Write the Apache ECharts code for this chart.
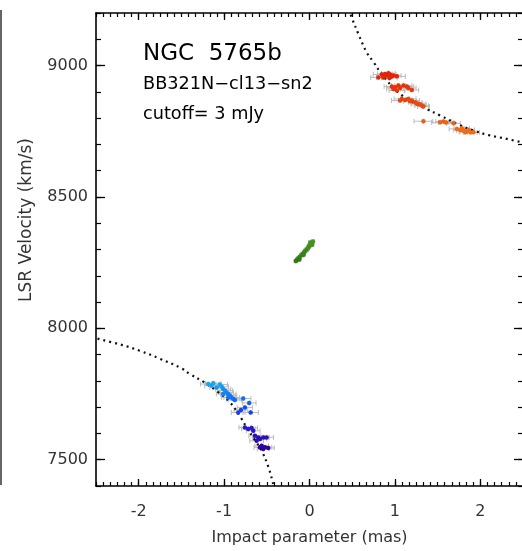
<!DOCTYPE html>
<html>
<head>
<meta charset="utf-8">
<script src="https://cdn.jsdelivr.net/npm/echarts@6/dist/echarts.min.js"></script>
<style>
  html, body { margin: 0; padding: 0; background: #fff; overflow: hidden; }
  #chart { width: 524px; height: 551px; }
</style>
</head>
<body>
<div id="chart"></div>
<script>
// Position-velocity diagram of the maser spots: [impact parameter (mas), LSR velocity (km/s), x-error (mas)]
const redshifted = [
  [0.807, 8955, 0.09], [0.846, 8966, 0.10], [0.865, 8955, 0.08], [0.885, 8968, 0.09],
  [0.905, 8962, 0.07], [0.924, 8971, 0.08], [0.936, 8953, 0.09], [0.944, 8966, 0.07],
  [0.964, 8958, 0.08], [0.982, 8962, 0.09], [1.022, 8959, 0.10],
  [0.964, 8920, 0.09], [0.982, 8911, 0.08], [1.002, 8917, 0.10], [1.022, 8905, 0.09],
  [1.041, 8924, 0.08], [1.061, 8915, 0.09], [1.100, 8924, 0.10], [1.140, 8920, 0.08],
  [1.158, 8915, 0.09], [1.198, 8907, 0.08],
  [1.061, 8867, 0.10], [1.081, 8873, 0.09], [1.120, 8869, 0.08], [1.158, 8873, 0.09],
  [1.178, 8864, 0.08], [1.198, 8867, 0.09], [1.237, 8860, 0.08], [1.257, 8856, 0.07],
  [1.276, 8854, 0.08], [1.296, 8852, 0.07], [1.315, 8848, 0.08], [1.334, 8844, 0.07],
  [1.334, 8788, 0.11], [1.530, 8784, 0.10], [1.569, 8787, 0.09], [1.600, 8783, 0.09],
  [1.686, 8780, 0.08],
  [1.726, 8759, 0.09], [1.764, 8755, 0.08], [1.784, 8761, 0.09], [1.803, 8753, 0.08],
  [1.823, 8746, 0.07], [1.843, 8750, 0.08], [1.862, 8755, 0.07], [1.882, 8746, 0.08],
  [1.920, 8746, 0.07]
];
const systemic = [
  [-0.160, 8256, 0.02], [-0.145, 8261, 0.02], [-0.130, 8266, 0.02], [-0.115, 8271, 0.02],
  [-0.095, 8278, 0.02], [-0.080, 8283, 0.02], [-0.065, 8289, 0.02], [-0.050, 8294, 0.02],
  [-0.035, 8299, 0.02], [-0.020, 8305, 0.02], [-0.010, 8310, 0.02], [0.000, 8315, 0.02],
  [0.015, 8320, 0.02], [0.028, 8325, 0.02], [0.040, 8330, 0.02], [0.010, 8327, 0.02],
  [0.030, 8318, 0.02], [-0.120, 8262, 0.02], [-0.070, 8280, 0.02]
];
const blueshifted = [
  [-1.186, 7788, 0.09], [-1.147, 7782, 0.08], [-1.128, 7791, 0.09], [-1.088, 7775, 0.08],
  [-1.049, 7786, 0.09], [-1.029, 7778, 0.08], [-1.011, 7769, 0.09], [-1.011, 7750, 0.08],
  [-0.990, 7763, 0.09], [-0.971, 7756, 0.08], [-0.952, 7750, 0.09], [-0.952, 7737, 0.08],
  [-0.932, 7744, 0.08], [-0.912, 7737, 0.09], [-0.893, 7731, 0.08], [-0.873, 7727, 0.08],
  [-0.776, 7733, 0.09], [-0.706, 7716, 0.08], [-0.756, 7699, 0.09], [-0.803, 7689, 0.08],
  [-0.689, 7680, 0.09], [-0.835, 7680, 0.08],
  [-0.756, 7623, 0.07], [-0.717, 7617, 0.08], [-0.678, 7621, 0.07], [-0.659, 7610, 0.08],
  [-0.639, 7591, 0.07], [-0.619, 7572, 0.08], [-0.600, 7585, 0.07], [-0.580, 7579, 0.08],
  [-0.542, 7585, 0.07], [-0.502, 7585, 0.08], [-0.580, 7547, 0.07], [-0.560, 7553, 0.08],
  [-0.542, 7541, 0.07], [-0.522, 7547, 0.08], [-0.483, 7545, 0.07]
];
// Rotation curves traced along the high-velocity features
const curveRed = [
  [0.46, 9215], [0.50, 9178], [0.57, 9122], [0.67, 9050], [0.75, 9013], [0.85, 8965],
  [1.04, 8898], [1.20, 8862], [1.37, 8835], [1.53, 8810], [1.75, 8775], [1.92, 8753],
  [2.10, 8735], [2.31, 8721], [2.55, 8703]
];
const curveBlue = [
  [-2.55, 7966], [-2.20, 7937], [-1.99, 7915], [-1.75, 7884], [-1.50, 7848], [-1.40, 7826],
  [-1.23, 7794], [-1.08, 7760], [-0.93, 7718], [-0.80, 7658], [-0.74, 7625], [-0.65, 7580],
  [-0.56, 7534], [-0.48, 7471], [-0.42, 7400], [-0.40, 7370]
];
const xMajorTicks = [-2, -1, 0, 1, 2];
const yMajorTicks = [7500, 8000, 8500, 9000];
const xRange = [-2.5, 2.5];
const yRange = [7400, 9200];

const FONT = 'DejaVu Sans';

// velocity -> colour ramp
const colourStops = [
  [7540, [48, 0, 160]], [7620, [40, 24, 208]], [7700, [20, 80, 240]], [7790, [20, 170, 240]],
  [8250, [40, 120, 16]], [8330, [70, 150, 30]], [8750, [240, 110, 24]], [8960, [228, 36, 8]]
];
function velColour(v) {
  if (v <= colourStops[0][0]) return 'rgb(' + colourStops[0][1].join(',') + ')';
  for (let i = 1; i < colourStops.length; i++) {
    const a = colourStops[i - 1], b = colourStops[i];
    if (v <= b[0]) {
      const t = (v - a[0]) / (b[0] - a[0]);
      const c = a[1].map((x, k) => Math.round(x + (b[1][k] - x) * t));
      return 'rgb(' + c.join(',') + ')';
    }
  }
  return 'rgb(' + colourStops[colourStops.length - 1][1].join(',') + ')';
}

function errorBars(data) {
  return {
    type: 'custom',
    xAxisIndex: 0, yAxisIndex: 0,
    data: data,
    encode: { x: 0, y: 1 },
    z: 2,
    silent: true,
    renderItem: function (params, api) {
      const x = api.value(0), y = api.value(1), e = api.value(2);
      const p1 = api.coord([x - e, y]);
      const p2 = api.coord([x + e, y]);
      const st = { stroke: '#bcbcbc', lineWidth: 1 };
      const mx = (p1[0] + p2[0]) / 2;
      return {
        type: 'group',
        children: [
          { type: 'line', shape: { x1: p1[0], y1: p1[1], x2: p2[0], y2: p2[1] }, style: st },
          { type: 'line', shape: { x1: p1[0], y1: p1[1] - 2.5, x2: p1[0], y2: p1[1] + 2.5 }, style: st },
          { type: 'line', shape: { x1: p2[0], y1: p2[1] - 2.5, x2: p2[0], y2: p2[1] + 2.5 }, style: st },
          { type: 'line', shape: { x1: mx, y1: p1[1] - 2.5, x2: mx, y2: p1[1] + 2.5 }, style: st }
        ]
      };
    }
  };
}

function spots(data) {
  return {
    type: 'scatter',
    xAxisIndex: 0, yAxisIndex: 0,
    data: data,
    symbol: 'circle',
    symbolSize: 4.5,
    z: 4,
    itemStyle: {
      color: function (p) { return velColour(p.value[1]); },
      opacity: 1
    }
  };
}

function curve(data) {
  return {
    type: 'line',
    xAxisIndex: 0, yAxisIndex: 0,
    data: data,
    smooth: 0.4,
    symbol: 'none',
    clip: true,
    z: 3,
    lineStyle: { color: '#111', width: 2.2, type: [2, 4], cap: 'butt' }
  };
}

const axisLine = { show: true, onZero: false, lineStyle: { color: '#000', width: 1.6 } };
const noLine = { show: false, onZero: false };
const labelStyle = { color: '#333', fontFamily: FONT, fontSize: 16, formatter: function (v) { return String(v); } };

function xAxisPair(position, showLabel) {
  return [
    {
      type: 'value', position: position, min: xRange[0], max: xRange[1],
      axisLine: axisLine,
      axisTick: { show: true, inside: true, length: 7, customValues: xMajorTicks, lineStyle: { color: '#000', width: 1.3 } },
      axisLabel: showLabel ? Object.assign({ show: true, margin: 18, customValues: xMajorTicks }, labelStyle) : { show: false },
      splitLine: { show: false },
      name: showLabel ? 'Impact parameter (mas)' : '',
      nameLocation: 'middle', nameGap: 44,
      nameTextStyle: { color: '#333', fontFamily: FONT, fontSize: 16 }
    },
    {
      type: 'value', position: position, min: xRange[0], max: xRange[1], interval: 1 / 12,
      axisLine: noLine,
      axisTick: { show: true, inside: true, length: 4, lineStyle: { color: '#000', width: 1.2 } },
      axisLabel: { show: false },
      splitLine: { show: false }
    }
  ];
}

function yAxisPair(position, showLabel) {
  return [
    {
      type: 'value', position: position, min: yRange[0], max: yRange[1],
      axisLine: axisLine,
      axisTick: { show: true, inside: true, length: 9, customValues: yMajorTicks, lineStyle: { color: '#000', width: 1.3 } },
      axisLabel: showLabel ? Object.assign({ show: true, margin: 8, customValues: yMajorTicks }, labelStyle) : { show: false },
      splitLine: { show: false }
    },
    {
      type: 'value', position: position, min: yRange[0], max: yRange[1], interval: 100,
      axisLine: noLine,
      axisTick: { show: true, inside: true, length: 5, lineStyle: { color: '#000', width: 1.2 } },
      axisLabel: { show: false },
      splitLine: { show: false }
    }
  ];
}

const chart = echarts.init(document.getElementById('chart'), null, { renderer: 'canvas' });
chart.setOption({
  animation: false,
  backgroundColor: '#fff',
  textStyle: { fontFamily: FONT },
  grid: { left: 96, right: 1, top: 13, bottom: 65, containLabel: false, outerBoundsMode: 'none' },
  xAxis: xAxisPair('bottom', true).concat(xAxisPair('top', false)),
  yAxis: yAxisPair('left', true).concat(yAxisPair('right', false)),
  graphic: [
    { type: 'line', shape: { x1: 1, y1: 10, x2: 1, y2: 485 }, style: { stroke: '#333', lineWidth: 1.5 } },
    {
      type: 'text', x: 27, y: 220, rotation: Math.PI / 2,
      style: { x: 0, y: 0, text: 'LSR Velocity (km/s)', fontFamily: FONT, fontSize: 17, fill: '#333', align: 'center', verticalAlign: 'middle' }
    },
    { type: 'text', style: { x: 143, y: 54, text: 'NGC  5765b', fontFamily: FONT, fontSize: 23, fill: '#000', verticalAlign: 'middle' } },
    {
      type: 'text', x: 143, y: 85, scaleX: 1.04,
      style: { x: 0, y: 0, text: 'BB321N\u2212cl13\u2212sn2', fontFamily: FONT, fontSize: 17, fill: '#000', verticalAlign: 'middle' }
    },
    {
      type: 'text', x: 143, y: 115, scaleX: 1.04,
      style: { x: 0, y: 0, text: 'cutoff= 3 mJy', fontFamily: FONT, fontSize: 17, fill: '#000', verticalAlign: 'middle' }
    }
  ],
  series: [
    curve(curveRed),
    curve(curveBlue),
    errorBars(redshifted),
    errorBars(systemic),
    errorBars(blueshifted),
    spots(redshifted),
    spots(systemic),
    spots(blueshifted)
  ]
});
</script>
</body>
</html>
